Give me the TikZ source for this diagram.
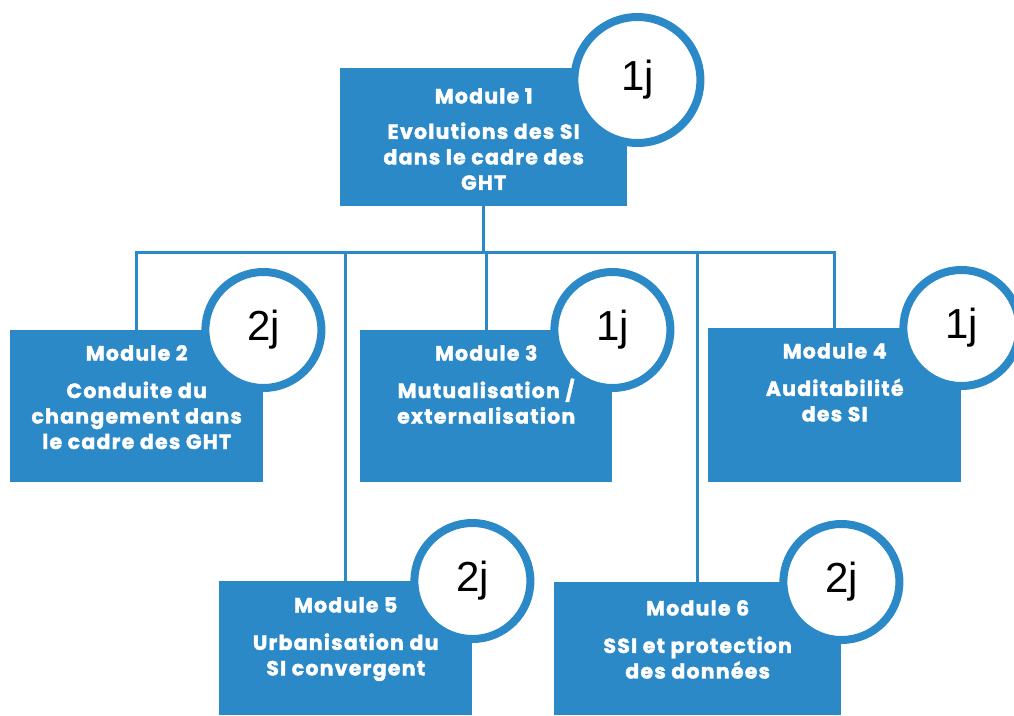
\documentclass[tikz,border=0pt]{standalone}
\usepackage{fontspec}
\usetikzlibrary{backgrounds}
\newfontfamily\modfont{Poppins}[LetterSpace=6, FakeBold=1.8]
\newfontfamily\daysfont{Liberation Sans}
\definecolor{modblue}{RGB}{43,137,200}

\begin{document}
\begin{tikzpicture}[
  x=1pt, y=-1pt,
  mbox/.style={fill=modblue, inner sep=0pt, anchor=north west},
  mtext/.style={anchor=north, text=white, align=center, inner sep=0pt,
    font=\modfont\bfseries\fontsize{20.5}{25.5}\selectfont},
  days/.style={circle, draw=modblue, line width=8pt, fill=white,
    inner sep=0pt, minimum size=116pt, font=\daysfont\fontsize{42}{42}\selectfont},
  link/.style={draw=modblue, line width=3pt}
]

\useasboundingbox (0,0) rectangle (1014,715);

\coordinate (bus) at (485,252);

% module boxes
\node [mbox, minimum width=287pt, minimum height=138pt] (m1) at (340,68) {};
\node [mbox, minimum width=253pt, minimum height=152pt] (m2) at (10,330) {};
\node [mbox, minimum width=252pt, minimum height=152pt] (m3) at (360,330) {};
\node [mbox, minimum width=253pt, minimum height=154pt] (m4) at (708,328) {};
\node [mbox, minimum width=253pt, minimum height=134pt] (m5) at (219,581) {};
\node [mbox, minimum width=287pt, minimum height=133pt] (m6) at (554,582) {};

% links, behind the boxes
\begin{scope}[on background layer]
\draw [link] (m1.south) -- (m1.south |- bus);
\draw [link] (m2.north) -- (m2.north |- bus) -- (m4.north |- bus) -- (m4.north);
\draw [link] (m3.north) -- (m3.north |- bus);
\draw [link] (m5.north) -- (m5.north |- bus);
\draw [link] (m6.north) -- (m6.north |- bus);
\end{scope}

% texts
\node [mtext] (t1) at ([yshift=-20pt]m1.north) {Module 1\\[10pt]Evolutions des SI\\dans le cadre des\\GHT};
\node [mtext] (t2) at ([yshift=-15pt]m2.north) {Module 2\\[12pt]Conduite du\\changement dans\\le cadre des GHT};
\node [mtext] (t3) at ([yshift=-15pt]m3.north) {Module 3\\[12pt]Mutualisation /\\externalisation};
\node [mtext] (t4) at ([yshift=-15pt]m4.north) {Module 4\\[12pt]Auditabilité\\des SI};
\node [mtext] (t5) at ([yshift=-16pt]m5.north) {Module 5\\[12pt]Urbanisation du\\SI convergent};
\node [mtext] (t6) at ([yshift=-18pt]m6.north) {Module 6\\[12pt]SSI et protection\\des données};

% durations
\node [days, minimum size=126pt] (d1) at ([shift={(10,12)}]m1.north east) {1j};
\node [days] (d2) at (m2.north east) {2j};
\node [days] (d3) at (m3.north east) {1j};
\node [days] (d4) at (m4.north east) {1j};
\node [days] (d5) at (m5.north east) {2j};
\node [days] (d6) at (m6.north east) {2j};

\end{tikzpicture}
\end{document}
